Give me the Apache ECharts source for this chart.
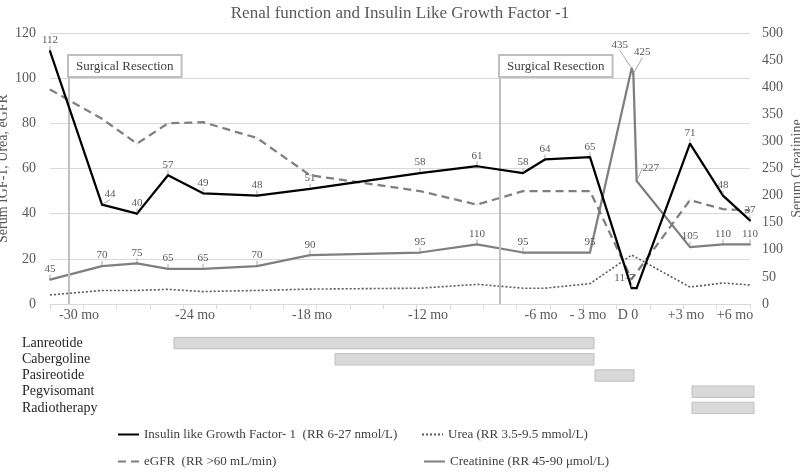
<!DOCTYPE html>
<html><head><meta charset="utf-8">
<script src="https://cdn.jsdelivr.net/npm/echarts@6/dist/echarts.min.js"></script>
<style>html,body{margin:0;padding:0;background:#fff}#c{width:800px;height:474px}</style>
</head><body><div id="c"></div>
<script>
// ---- data (x positions in axis-tick units) ----
const titleText = 'Renal function and Insulin Like Growth Factor -1';
const timePos = [0, 1.56, 2.61, 3.54, 4.59, 6.21, 7.8, 11.1, 12.81, 14.19, 14.85, 16.2, 17.45, 17.5, 17.6, 19.2, 20.19, 21];
const igf   = [112, 44, 40, 57, 49, 48, 51, 58, 61, 58, 64, 65, 7, null, 7, 71, 48, 37];
const urea  = [4, 6, 6, 6.5, 5.5, 6, 6.6, 7, 8.7, 7, 7, 9, 21.7, null, null, 7.5, 9.3, 8.4];
const egfr  = [95, 82, 71, 80, 80.5, 73.5, 57, 50, 44, 50, 50, 50, 11, null, null, 46, 42, 41.5];
const creat = [45, 70, 75, 65, 65, 70, 90, 95, 110, 95, null, 95, 435, 425, 227, 105, 110, 110];
const xLabelPos  = [0.87, 4.35, 7.86, 11.34, 14.73, 16.14, 17.34, 19.08, 20.55];
const xLabelText = ['-30 mo', '-24 mo', '-18 mo', '-12 mo', '-6 mo', '- 3 mo', 'D 0', '+3 mo', '+6 mo'];
const surgeryPos = [0.57, 13.5];
const surgeryText = 'Surgical Resection';
const treatments = ['Lanreotide', 'Cabergoline', 'Pasireotide', 'Pegvisomant', 'Radiotherapy'];
const treatStart = [3.72, 8.55, 16.35, 19.26, 19.26];
const treatEnd   = [16.32, 16.32, 17.52, 21.12, 21.12];
const seriesNames = ['Insulin like Growth Factor- 1  (RR 6-27 nmol/L)', 'Urea (RR 3.5-9.5 mmol/L)', 'eGFR  (RR >60 mL/min)', 'Creatinine (RR 45-90 \u03bcmol/L)'];

// ---- label styling (offsets) ----
const igfOffset = {0: [8, 0], 12: [-6, 16]};
const igfShift = {1: [8, 0]};
const igfHide = [14];
const creatOffset = {11: [-7, 0]};
const creatShift = {12: [-12, -13], 13: [9, -11], 14: [14, -2]};
const egfrShow = [12];
const egfrShift = {12: [-12, 9]};

function build(vals, o) {
  const items = [], idxs = [];
  vals.forEach((v, i) => {
    if (v == null) return;
    const it = {value: [timePos[i], v]};
    const lab = {};
    if (o.hide && o.hide.includes(i)) lab.show = false;
    if (o.only && !o.only.includes(i)) lab.show = false;
    if (o.offset && o.offset[i]) lab.offset = o.offset[i];
    if (Object.keys(lab).length) it.label = lab;
    items.push(it); idxs.push(i);
  });
  return {items, idxs};
}
const bIgf = build(igf, {offset: igfOffset, hide: igfHide});
const bUrea = build(urea, {only: []});
const bEgfr = build(egfr, {only: egfrShow});
const bCreat = build(creat, {offset: creatOffset});
function layoutFn(b, shifts) {
  return function (p) {
    const s = shifts[b.idxs[p.dataIndex]];
    return s ? {dx: s[0], dy: s[1]} : {};
  };
}

const FONT = 'Liberation Serif';
const GRAY = '#595959';
const dataLabel = {show: true, position: 'top', distance: 4, fontSize: 11, color: GRAY, fontFamily: FONT};
const leader = {show: true, lineStyle: {color: '#a6a6a6', width: 1}};
const legendBase = {itemWidth: 21, itemHeight: 12, itemStyle: {opacity: 0, borderWidth: 0}, textStyle: {fontSize: 13, color: '#404040', fontFamily: FONT}};

const chart = echarts.init(document.getElementById('c'), null, {renderer: 'canvas'});
const option = {
  animation: false,
  textStyle: {fontFamily: FONT},
  title: {text: titleText, left: 'center', top: 0, textStyle: {fontFamily: FONT, fontSize: 17, fontWeight: 'normal', color: GRAY}},
  legend: [
    Object.assign({data: [seriesNames[0]], left: 112, top: 423}, legendBase),
    Object.assign({data: [seriesNames[1]], left: 416, top: 423}, legendBase),
    Object.assign({data: [seriesNames[2]], left: 112, top: 450}, legendBase),
    Object.assign({data: [seriesNames[3]], left: 418, top: 450}, legendBase)
  ],
  grid: [
    {left: 50, right: 50, top: 33, bottom: 170, outerBoundsMode: 'none'},
    {left: 50, right: 50, top: 335, height: 81, outerBoundsMode: 'none'}
  ],
  xAxis: [
    {type: 'value', gridIndex: 0, min: 0, max: 21, interval: 1,
     axisLine: {show: true, lineStyle: {color: '#d9d9d9', width: 1}},
     axisTick: {show: true, length: 5, lineStyle: {color: '#d9d9d9'}},
     axisLabel: {show: false}, splitLine: {show: false}},
    {type: 'value', gridIndex: 0, min: 0, max: 21, position: 'bottom',
     axisLine: {show: false}, axisTick: {show: false}, splitLine: {show: false},
     axisLabel: {show: true, customValues: xLabelPos, margin: 4, fontSize: 14, color: GRAY, fontFamily: FONT,
       formatter: function (v) {
         let best = 0;
         xLabelPos.forEach((p, i) => { if (Math.abs(p - v) < Math.abs(xLabelPos[best] - v)) best = i; });
         return xLabelText[best];
       }}},
    {type: 'value', gridIndex: 1, min: 0, max: 21, show: false}
  ],
  yAxis: [
    {type: 'value', gridIndex: 0, min: 0, max: 120, interval: 20, name: 'Serum IGF-1, Urea, eGFR',
     nameLocation: 'middle', nameGap: 40, nameRotate: 90, nameMoveOverlap: false,
     nameTextStyle: {fontSize: 14, color: GRAY, fontFamily: FONT},
     axisLine: {show: false}, axisTick: {show: false},
     axisLabel: {fontSize: 14, color: GRAY, margin: 14, fontFamily: FONT},
     splitLine: {show: true, lineStyle: {color: '#d9d9d9', width: 1}}},
    {type: 'value', gridIndex: 0, min: 0, max: 500, interval: 50, position: 'right', name: 'Serum Creatinine',
     nameLocation: 'middle', nameGap: 40, nameRotate: 90, nameMoveOverlap: false,
     nameTextStyle: {fontSize: 14, color: GRAY, fontFamily: FONT},
     axisLine: {show: false}, axisTick: {show: false},
     axisLabel: {fontSize: 14, color: GRAY, margin: 12, fontFamily: FONT},
     splitLine: {show: false}},
    {type: 'category', gridIndex: 1, data: treatments, inverse: true,
     axisLine: {show: false}, axisTick: {show: false}, splitLine: {show: false},
     axisLabel: {interval: 0, align: 'left', margin: 28, fontSize: 14, color: '#262626', fontFamily: FONT}}
  ],
  series: [
    {name: seriesNames[0], type: 'line', xAxisIndex: 0, yAxisIndex: 0, data: bIgf.items,
     symbol: 'circle', symbolSize: 2, z: 5,
     itemStyle: {color: '#000'}, lineStyle: {color: '#000', width: 2.25},
     label: dataLabel, labelLine: leader, labelLayout: layoutFn(bIgf, igfShift),
     markLine: {silent: true, symbol: 'none', animation: false,
       lineStyle: {color: '#bfbfbf', width: 2, type: 'solid'},
       label: {show: true, position: 'end', formatter: surgeryText, align: 'left', verticalAlign: 'bottom', distance: 0,
         padding: [4, 7, 3, 7], borderColor: '#bfbfbf', borderWidth: 2, backgroundColor: '#fff',
         color: '#404040', fontSize: 13, fontFamily: FONT},
       data: surgeryPos.map(p => [{coord: [p, 0]}, {coord: [p, 101]}])}},
    {name: seriesNames[1], type: 'line', xAxisIndex: 0, yAxisIndex: 0, data: bUrea.items,
     symbol: 'none', z: 3,
     itemStyle: {color: '#595959'}, lineStyle: {color: '#595959', width: 1.6, type: [2, 2]}},
    {name: seriesNames[2], type: 'line', xAxisIndex: 0, yAxisIndex: 0, data: bEgfr.items,
     symbol: 'circle', symbolSize: 1, z: 4,
     itemStyle: {color: '#7f7f7f'}, lineStyle: {color: '#7f7f7f', width: 2.25, type: [8, 5]},
     label: dataLabel, labelLine: leader, labelLayout: layoutFn(bEgfr, egfrShift)},
    {name: seriesNames[3], type: 'line', xAxisIndex: 0, yAxisIndex: 1, data: bCreat.items,
     symbol: 'circle', symbolSize: 2, z: 4,
     itemStyle: {color: '#7f7f7f'}, lineStyle: {color: '#7f7f7f', width: 2.25},
     label: dataLabel, labelLine: leader, labelLayout: layoutFn(bCreat, creatShift)},
    {type: 'custom', xAxisIndex: 2, yAxisIndex: 2, silent: true,
     data: treatments.map((t, i) => [treatStart[i], treatEnd[i], i]),
     encode: {x: [0, 1], y: 2},
     renderItem: function (params, api) {
       const c = api.value(2);
       const s = api.coord([api.value(0), c]);
       const e = api.coord([api.value(1), c]);
       const h = api.size([0, 1])[1] * 0.7;
       return {type: 'rect', shape: {x: s[0], y: s[1] - h / 2, width: e[0] - s[0], height: h},
         style: {fill: '#d9d9d9', stroke: '#bfbfbf', lineWidth: 1}};
     }}
  ]
};
chart.setOption(option);
</script></body></html>
